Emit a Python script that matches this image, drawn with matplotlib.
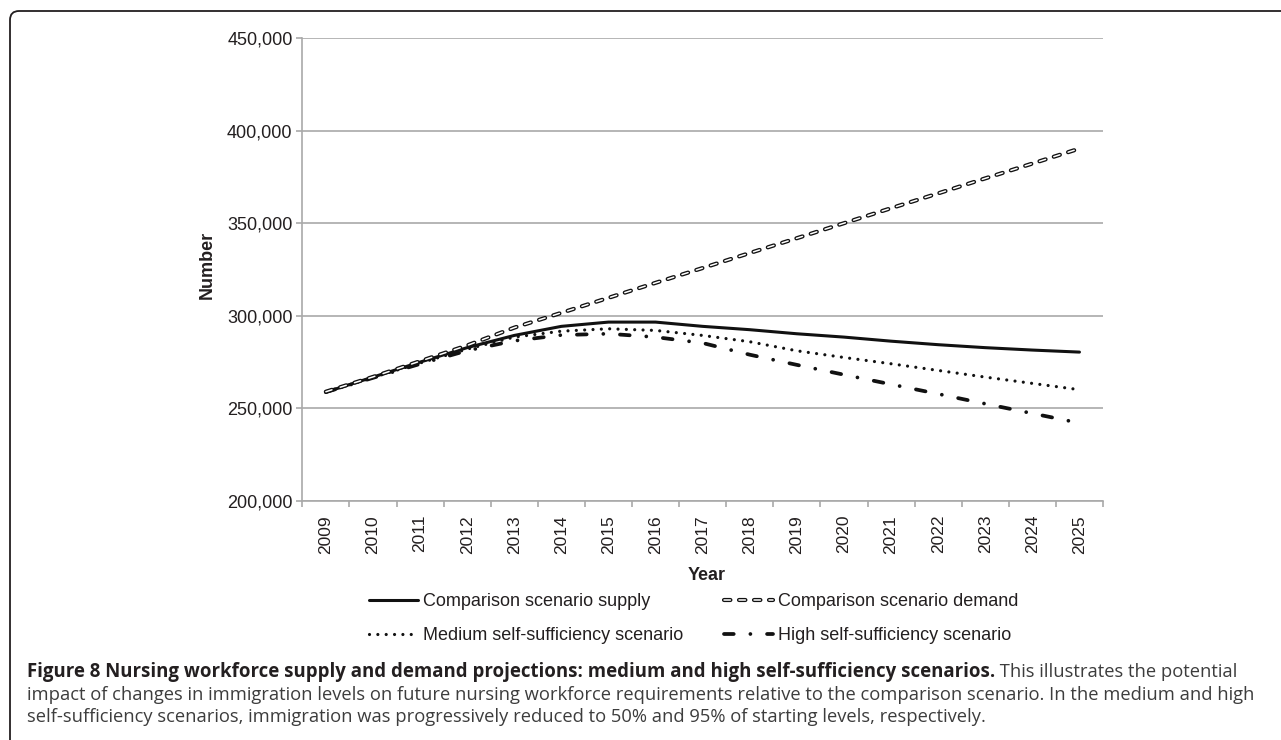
import matplotlib
matplotlib.use("Agg")
import matplotlib.pyplot as plt
import matplotlib.patheffects as pe
from matplotlib.patches import FancyBboxPatch
from matplotlib.transforms import IdentityTransform
from matplotlib.ticker import FuncFormatter, FixedLocator

plt.rcParams['font.family'] = ['Liberation Sans', 'DejaVu Sans']
plt.rcParams['lines.scale_dashes'] = False

# données
years = [str(y) for y in range(2009, 2026)]
supply = [258800, 266900, 275000, 282800, 289400, 294300, 296600, 296600, 294300,
          292500, 290300, 288500, 286300, 284400, 282800, 281500, 280400]
demand = [259000, 267000, 275500, 284000, 293600, 301600, 309700, 317800, 325800,
          333900, 341900, 350000, 358100, 366100, 374200, 382200, 390300]
medium = [258800, 266700, 274500, 282000, 288500, 291700, 293000, 292100, 289400,
          286000, 281100, 277500, 274100, 270500, 266900, 263500, 260100]
high = [258800, 266500, 274000, 281200, 286500, 289600, 290300, 288500, 285300,
        279000, 273500, 268200, 263000, 257800, 252500, 247300, 242100]
y_ticks = [200000, 250000, 300000, 350000, 400000, 450000]

labels = ["Comparison scenario supply", "Comparison scenario demand",
          "Medium self-sufficiency scenario", "High self-sufficiency scenario"]

W, H = 1281, 740
fig = plt.figure(figsize=(W / 100, H / 100), dpi=100)
ax = fig.add_axes([302.3 / W, 1 - 501 / H, 800.7 / W, 463 / H])

x = list(range(len(years)))
grid_col = '#a9a9a9'
txt_col = '#231f20'

l_sup, = ax.plot(x, supply, color='#111111', lw=2.2, solid_capstyle='round', zorder=3)
l_dem, = ax.plot(x, demand, color='white', lw=1.1, dashes=(4.6, 6.2),
                 dash_capstyle='round', zorder=4,
                 path_effects=[pe.Stroke(linewidth=3.0, foreground='#111111'), pe.Normal()])
l_med, = ax.plot(x, medium, color='#111111', lw=2.3, dashes=(0.01, 6.0),
                 dash_capstyle='round', zorder=3)
l_high, = ax.plot(x, high, color='#111111', lw=2.7, dashes=(7.0, 12.0, 0.01, 12.0),
                  dash_capstyle='round', zorder=3)

ax.set_xlim(-0.5, len(years) - 0.5)
ax.set_ylim(200000, 450000)
ax.set_yticks(y_ticks)
ax.yaxis.set_major_formatter(FuncFormatter(lambda v, p: f"{v:,.0f}"))
ax.grid(axis='y', color=grid_col, lw=1.2)
ax.set_axisbelow(True)

# axe des catégories : repères entre les années, étiquettes au centre
ax.xaxis.set_major_locator(FixedLocator([i - 0.5 for i in range(len(years) + 1)]))
ax.xaxis.set_major_formatter(FuncFormatter(lambda v, p: ""))
ax.set_xticks(x, minor=True)
ax.set_xticklabels(years, minor=True, rotation=90, fontsize=12.5, color=txt_col)
ax.tick_params(axis='x', which='major', length=4.5, width=1.2, color=grid_col, direction='out')
ax.tick_params(axis='x', which='minor', length=0, pad=10)
ax.tick_params(axis='y', length=4, width=1.2, color=grid_col, pad=3, labelsize=13,
               labelcolor=txt_col)

for s in ['top', 'right']:
    ax.spines[s].set_visible(False)
for s in ['left', 'bottom']:
    ax.spines[s].set_color(grid_col)
    ax.spines[s].set_linewidth(1.2)

ax.set_ylabel("Number", fontsize=13, fontweight='bold', color=txt_col)
ax.yaxis.set_label_coords(-0.108, 0.51)
ax.set_xlabel("Year", fontsize=13, fontweight='bold', color=txt_col)
ax.xaxis.set_label_coords(0.505, -0.142)

fig.legend([l_sup, l_med, l_dem, l_high],
           [labels[0], labels[2], labels[1], labels[3]],
           ncol=2, loc='upper left', bbox_to_anchor=(369 / W, 1 - 593 / H),
           frameon=False, fontsize=13, handlelength=2.7, handletextpad=0.3,
           columnspacing=2.25, labelspacing=0.95, borderpad=0, borderaxespad=0,
           labelcolor=txt_col)

# cadre arrondi (haut et gauche visibles)
frame = FancyBboxPatch((10, -30), 1400, H - 11 + 30,
                       boxstyle="round,pad=0,rounding_size=9",
                       transform=IdentityTransform(), fill=False,
                       edgecolor='#231f20', lw=1.3)
fig.add_artist(frame)

# légende de la figure
cap_font = ['Open Sans', 'DejaVu Sans']
bold_1 = ("Figure 8 Nursing workforce supply and demand projections: "
          "medium and high self-sufficiency scenarios.")
reg_1 = " This illustrates the potential"
line_2 = ("impact of changes in immigration levels on future nursing workforce requirements "
          "relative to the comparison scenario. In the medium and high")
line_3 = ("self-sufficiency scenarios, immigration was progressively reduced to 50% and 95% "
          "of starting levels, respectively.")

r = fig.canvas.get_renderer()
x0 = 27
reg_col = '#3d3d3d'
t2 = fig.text(x0 / W, 1 - 700 / H, line_2, fontsize=12, family=cap_font,
              color=reg_col, va='baseline')
fs = 12 * (1225 / t2.get_window_extent(r).width)
t2.set_fontsize(fs)
fig.text(x0 / W, 1 - 722 / H, line_3, fontsize=fs, family=cap_font,
         color=reg_col, va='baseline')
tb = fig.text(x0 / W, 1 - 677 / H, bold_1, fontsize=12, family=cap_font,
              fontweight='bold', color='#231f20', va='baseline')
fsb = 12 * (963 / tb.get_window_extent(r).width)
tb.set_fontsize(fsb)
wb = tb.get_window_extent(r).width
fig.text((x0 + wb) / W, 1 - 677 / H, reg_1, fontsize=fs, family=cap_font,
         color=reg_col, va='baseline')

fig.savefig("out.png", dpi=100)
